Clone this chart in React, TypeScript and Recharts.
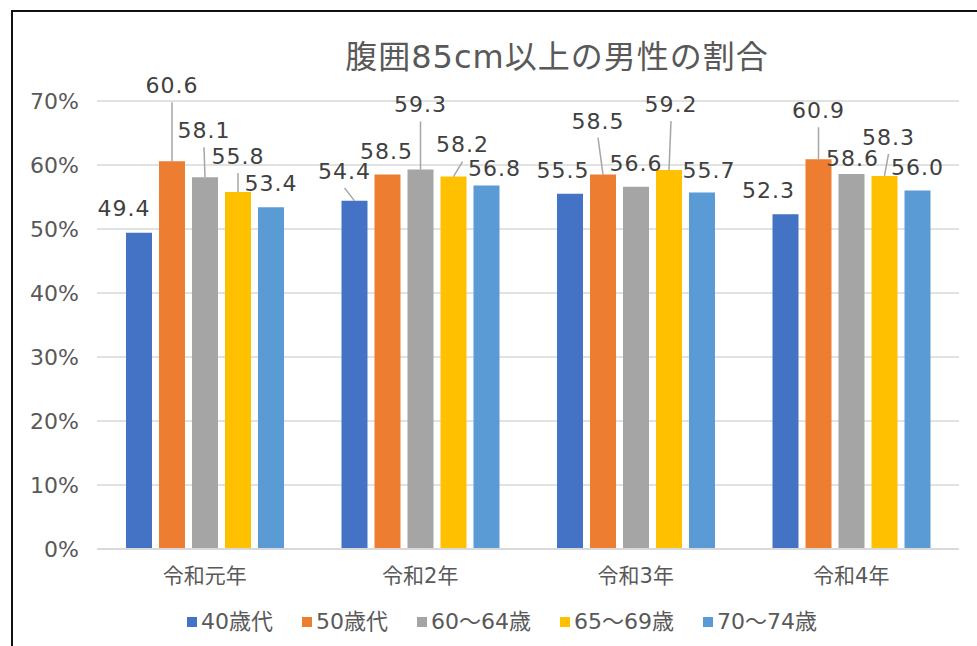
import { Bar, BarChart, CartesianGrid, LabelList, Legend, XAxis, YAxis } from "recharts";

const categories = ["令和元年", "令和2年", "令和3年", "令和4年"];
const seriesNames = ["40歳代", "50歳代", "60～64歳", "65～69歳", "70～74歳"];
const age40s = [49.4, 54.4, 55.5, 52.3];
const age50s = [60.6, 58.5, 58.5, 60.9];
const age60to64 = [58.1, 59.3, 56.6, 58.6];
const age65to69 = [55.8, 58.2, 59.2, 58.3];
const age70to74 = [53.4, 56.8, 55.7, 56.0];
const yTicks = [0, 10, 20, 30, 40, 50, 60, 70];

const colors = ["#4472C4", "#ED7D31", "#A5A5A5", "#FFC000", "#5B9BD5"];
const keys = ["s0", "s1", "s2", "s3", "s4"];

// label placement (dx, dy from the bar top centre), leader line on/off
const labelPlacement: [number, number, boolean][][] = [
  [[-15, -25, false], [-10, -30, true], [-7, -24, false], [-17, -24, false]],
  [[0, -76, true], [-1, -24, false], [-5, -54, true], [0, -49, true]],
  [[-1, -47, true], [0, -65, true], [0, -24, false], [1, -16, false]],
  [[0, -36, true], [9, -32, true], [2, -66, true], [4, -39, true]],
  [[0, -24, false], [8, -17, false], [7, -22, false], [0, -24, false]],
];

const allSeries = [age40s, age50s, age60to64, age65to69, age70to74];
const data = categories.map((name, i) => {
  const row: Record<string, string | number> = { name };
  allSeries.forEach((s, j) => {
    row[keys[j]] = s[i];
  });
  return row;
});

const FONT = "'DejaVu Sans', 'Noto Sans CJK JP', sans-serif";

function makeLabel(s: number) {
  return (props: any) => {
    const vb = props.viewBox || {};
    const x = Number(vb.x ?? props.x);
    const y = Number(vb.y ?? props.y);
    const w = Number(vb.width ?? props.width);
    const idx = Number(props.index);
    const place = labelPlacement[s][idx] || [0, -24, false];
    const cx = x + w / 2;
    const tx = cx + place[0];
    const ty = y + place[1];
    const v = Number(props.value);
    return (
      <g>
        {place[2] && (
          <line x1={tx} y1={ty + 17} x2={cx} y2={y} stroke="#a6a6a6" strokeWidth={1.5} />
        )}
        <text
          x={tx}
          y={ty}
          dy="0.36em"
          textAnchor="middle"
          fill="#404040"
          fontSize={22}
          letterSpacing={1}
          fontFamily={FONT}
        >
          {v.toFixed(1)}
        </text>
      </g>
    );
  };
}

function LegendBox(props: any) {
  const payload: any[] = props.payload && props.payload.length ? props.payload : [];
  const items = seriesNames.map((n, i) => {
    const p = payload.find((e) => e.value === n);
    return { name: n, color: p ? p.color : colors[i] };
  });
  return (
    <div style={{ display: "flex", alignItems: "center", gap: 29, fontFamily: FONT }}>
      {items.map((it) => (
        <div key={it.name} style={{ display: "flex", alignItems: "center" }}>
          <span style={{ width: 10, height: 10, background: it.color, marginRight: 4, display: "inline-block" }} />
          <span style={{ fontSize: 22, color: "#595959", lineHeight: "30px", whiteSpace: "nowrap" }}>{it.name}</span>
        </div>
      ))}
    </div>
  );
}

export default function App() {
  return (
    <div
      style={{
        position: "absolute",
        left: 0,
        top: 0,
        width: 977,
        height: 646,
        overflow: "hidden",
        background: "#fff",
        fontFamily: FONT,
      }}
    >
      <div
        style={{
          position: "absolute",
          left: 11,
          top: 10,
          width: 1000,
          height: 700,
          border: "2px solid #111",
        }}
      />
      <div
        style={{
          position: "absolute",
          left: 0,
          top: 36,
          width: 1114,
          textAlign: "center",
          fontSize: 32,
          letterSpacing: 1,
          color: "#595959",
          lineHeight: "42px",
          whiteSpace: "nowrap",
        }}
      >
        腹囲85cm以上の男性の割合
      </div>
      <div style={{ position: "absolute", left: 0, top: 0 }}>
        <BarChart
          width={977}
          height={646}
          data={data}
          margin={{ top: 101, right: 18, left: 0, bottom: 47 }}
          barGap={7}
          barSize={26}
        >
          <CartesianGrid vertical={false} stroke="#d9d9d9" strokeWidth={1.5} />
          <XAxis
            dataKey="name"
            height={50}
            tickLine={false}
            tickSize={0}
            tickMargin={19}
            axisLine={{ stroke: "#d9d9d9", strokeWidth: 2 }}
            tick={{ fill: "#595959", fontSize: 21, fontFamily: FONT }}
          />
          <YAxis
            type="number"
            domain={[0, 70]}
            ticks={yTicks}
            width={97}
            axisLine={false}
            tickLine={false}
            tickSize={0}
            tickMargin={18}
            tickFormatter={(v: number) => `${v}%`}
            tick={{ fill: "#595959", fontSize: 22, fontFamily: FONT }}
          />
          <Legend
            layout="vertical"
            align="center"
            verticalAlign="middle"
            content={LegendBox}
            wrapperStyle={{ left: 187, top: 607, width: 720, height: 30 }}
          />
          {keys.map((k, i) => (
            <Bar key={k} dataKey={k} name={seriesNames[i]} fill={colors[i]} isAnimationActive={false}>
              <LabelList dataKey={k} content={makeLabel(i)} />
            </Bar>
          ))}
        </BarChart>
      </div>
    </div>
  );
}
